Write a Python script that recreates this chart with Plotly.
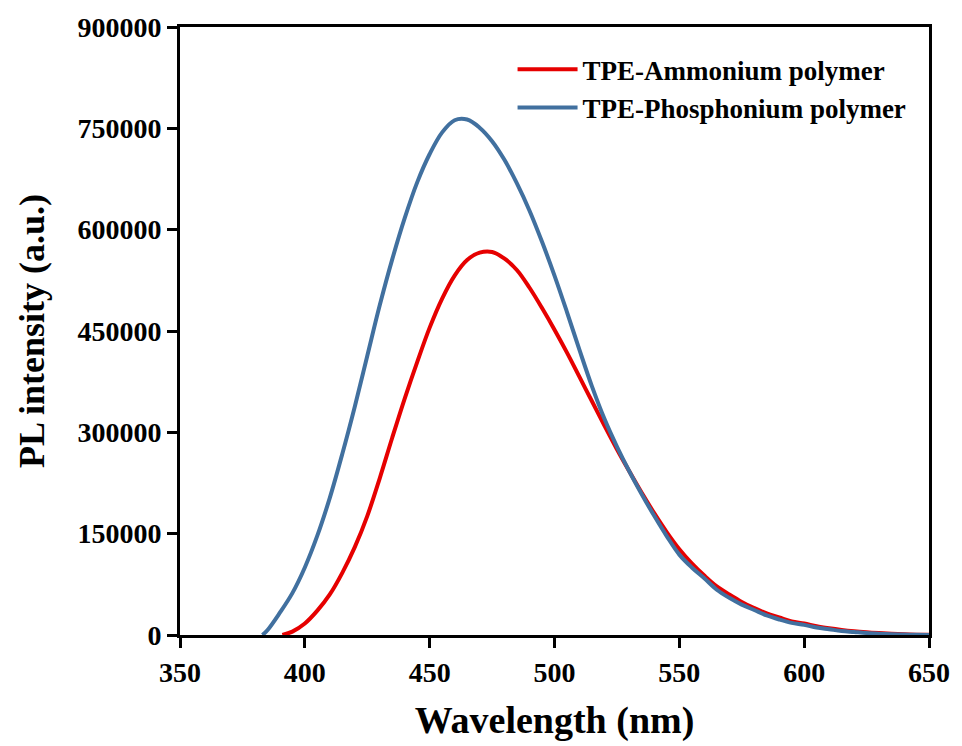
import plotly.graph_objects as go

# Wavelength (nm) and PL intensity (a.u.)
wl_amm = [391, 395, 400, 405, 410, 415, 420, 425, 430, 435, 440, 445, 450, 455, 460,
          465, 470, 475, 480, 485, 490, 495, 500, 505, 510, 515, 520, 525, 530,
          535, 540, 545, 550, 555, 560, 565, 570, 575, 580, 585, 590, 595, 600, 605,
          610, 615, 620, 625, 630, 635, 640, 645, 650]
pl_amm = [0, 5000, 17000, 36000, 60000, 92000, 130000, 176000, 232000, 292000, 350000,
          404000, 455000, 498000, 532000, 555000, 566000, 567000, 557000, 540000,
          514000, 484000, 452000, 418000, 382000, 346000, 310000, 275000, 242000, 210000,
          180000, 152000, 127000, 106000, 88000, 72000, 60000, 49000, 40000, 32000, 26000,
          20000, 17000, 13000, 10000, 7500, 5500, 4000, 2800, 1800, 1000, 500, 200]

wl_pho = [383, 385, 390, 395, 400, 405, 410, 415, 420, 425, 430, 435, 440, 445, 450,
          455, 460, 465, 470, 475, 480, 485, 490, 495, 500, 505, 510, 515, 520,
          525, 530, 535, 540, 545, 550, 555, 560, 565, 570, 575, 580, 585, 590, 595,
          600, 605, 610, 615, 620, 625, 630, 635, 640, 645, 650]
pl_pho = [0, 7000, 33000, 62000, 100000, 147000, 203000, 268000, 338000, 413000, 488000,
          556000, 617000, 670000, 712000, 744000, 762000, 763000, 751000, 731000,
          703000, 668000, 628000, 582000, 532000, 478000, 422000, 368000, 320000, 279000,
          242000, 208000, 176000, 146000, 119000, 100000, 84000, 67000, 55000, 45000,
          37000, 29000, 23000, 18000, 15000, 11000, 8500, 6000, 4500, 3000, 2000, 1200,
          700, 300, 100]

names = ["TPE-Ammonium polymer", "TPE-Phosphonium polymer"]
colors = ["#e60000", "#41709f"]

x_ticks = [350, 400, 450, 500, 550, 600, 650]
y_ticks = [0, 150000, 300000, 450000, 600000, 750000, 900000]

FONT = "Liberation Serif"

fig = go.Figure()
fig.add_trace(go.Scatter(x=wl_amm, y=pl_amm, mode="lines", name=names[0],
                         line=dict(color=colors[0], width=4, shape="spline", smoothing=1)))
fig.add_trace(go.Scatter(x=wl_pho, y=pl_pho, mode="lines", name=names[1],
                         line=dict(color=colors[1], width=4, shape="spline", smoothing=1)))

axis_common = dict(showline=True, linecolor="black", linewidth=3, mirror=True,
                   ticks="outside", ticklen=10, tickwidth=3, tickcolor="black",
                   showgrid=False, zeroline=False,
                   tickfont=dict(family=FONT, size=28, color="black", weight="bold"))

fig.update_xaxes(range=[350, 650], tickvals=x_ticks, ticktext=[str(v) for v in x_ticks],
                 title=dict(text="<b>Wavelength (nm)</b>", standoff=20,
                            font=dict(family=FONT, size=38, color="black")),
                 **axis_common)
fig.update_yaxes(range=[0, 900000], tickvals=y_ticks, ticktext=[str(v) for v in y_ticks],
                 title=dict(text="<b>PL intensity (a.u.)</b>", standoff=22,
                            font=dict(family=FONT, size=36, color="black")),
                 **axis_common)

fig.update_layout(
    width=962, height=746,
    margin=dict(l=180, r=28, t=27, b=110),
    plot_bgcolor="white", paper_bgcolor="white",
    legend=dict(x=0.444, y=0.97, xanchor="left", yanchor="top",
                bgcolor="rgba(0,0,0,0)", tracegroupgap=0, itemwidth=60,
                font=dict(family=FONT, size=27, color="black", weight="bold")),
    showlegend=True,
)

fig.write_html("out.html")
